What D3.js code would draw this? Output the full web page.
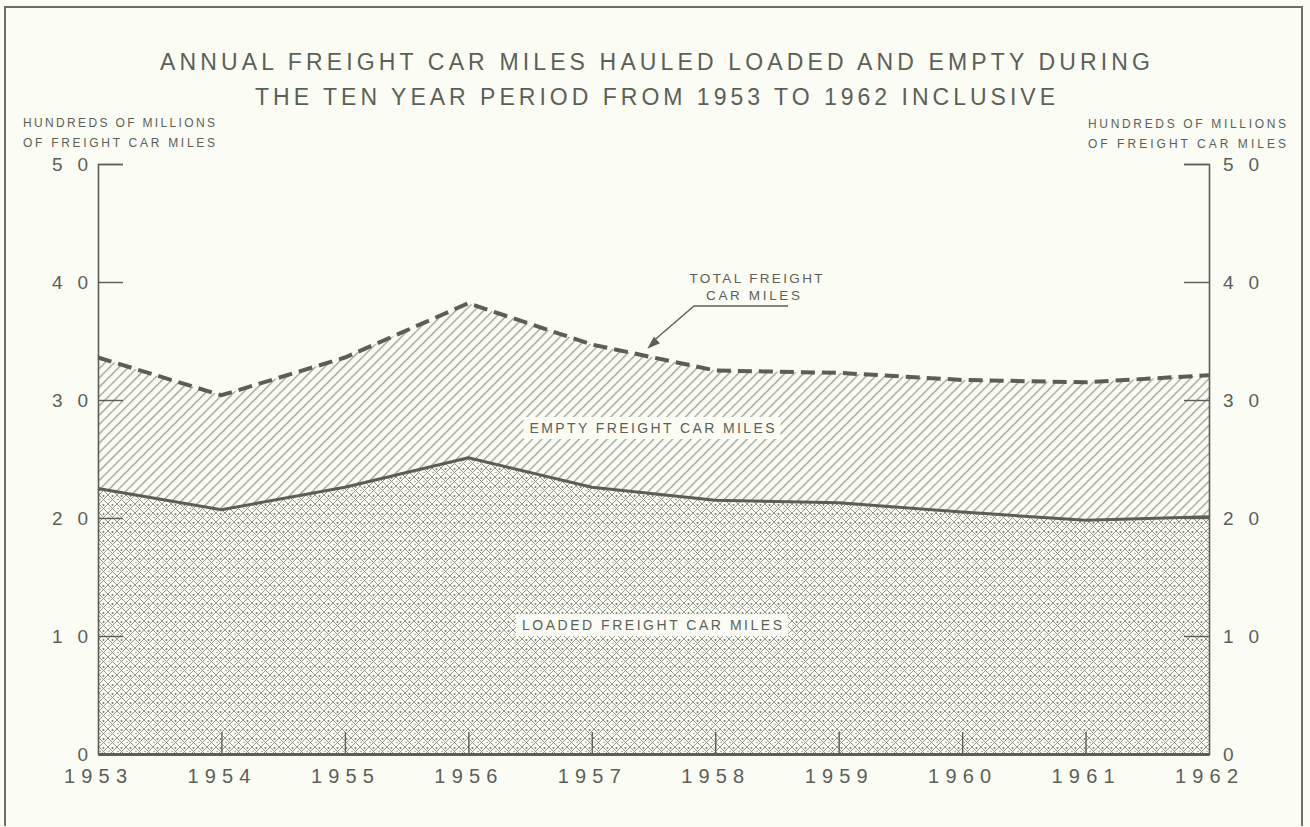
<!DOCTYPE html>
<html>
<head>
<meta charset="utf-8">
<script src="https://cdn.jsdelivr.net/npm/d3@7"></script>
<style>
  html, body { margin: 0; padding: 0; background: #fbfcf4; }
  svg { display: block; }
  text { font-family: "Liberation Sans", Arial, sans-serif; fill: #5b6056; }
</style>
</head>
<body>
<svg id="chart" width="1310" height="827"></svg>
<script>
// ---------------- data ----------------
const years = [1953, 1954, 1955, 1956, 1957, 1958, 1959, 1960, 1961, 1962];
const totalMiles  = [33.6, 30.4, 33.6, 38.2, 34.7, 32.5, 32.3, 31.7, 31.5, 32.1];
const loadedMiles = [22.5, 20.7, 22.6, 25.1, 22.6, 21.5, 21.3, 20.5, 19.8, 20.1];
const yTicks = [0, 10, 20, 30, 40, 50];
const titleLines = [
  "ANNUAL FREIGHT CAR MILES HAULED LOADED AND EMPTY DURING",
  "THE TEN YEAR PERIOD FROM 1953 TO 1962 INCLUSIVE"
];
const unitLines = ["HUNDREDS OF MILLIONS", "OF FREIGHT CAR MILES"];
const seriesLabels = {
  total: ["TOTAL FREIGHT", "CAR MILES"],
  empty: "EMPTY FREIGHT CAR MILES",
  loaded: "LOADED FREIGHT CAR MILES"
};
const totalPointer = { year: 1957.45, value: 34.0 };

// ---------------- layout ----------------
const ink = "#5b6056", lineInk = "#5a5e55", hatchInk = "#8a8e84", bg = "#fbfcf4";
const svg = d3.select("#chart");
const x = d3.scaleLinear().domain([1953, 1962]).range([98, 1209]);
const y = d3.scaleLinear().domain([0, 50]).range([754, 164]);

const data = years.map((yr, i) => ({ year: yr, total: totalMiles[i], loaded: loadedMiles[i] }));

svg.append("rect").attr("width", 1310).attr("height", 827).attr("fill", bg);

// frame (left, top, right)
svg.append("path")
  .attr("d", "M5,826 V7 H1302 V826")
  .attr("fill", "none").attr("stroke", "#6b6f66").attr("stroke-width", 2);

// patterns
const defs = svg.append("defs");
const hatch = defs.append("pattern")
  .attr("id", "hatch").attr("patternUnits", "userSpaceOnUse")
  .attr("width", 6.6).attr("height", 6.6)
  .attr("patternTransform", "rotate(45)");
hatch.append("line").attr("x1", 0.7).attr("y1", 0).attr("x2", 0.7).attr("y2", 6.6)
  .attr("stroke", hatchInk).attr("stroke-width", 1.1);

const cross = defs.append("pattern")
  .attr("id", "cross").attr("patternUnits", "userSpaceOnUse")
  .attr("width", 9).attr("height", 9);
cross.append("path").attr("d", "M0,0 L9,9 M9,0 L0,9")
  .attr("stroke", "#92968c").attr("stroke-width", 1).attr("fill", "none");
cross.append("circle").attr("cx", 4.5).attr("cy", 1).attr("r", 1).attr("fill", "#767a70");
cross.append("circle").attr("cx", 1).attr("cy", 4.5).attr("r", 0.7).attr("fill", "#868a80");

// areas
const emptyArea = d3.area().x(d => x(d.year)).y0(d => y(d.loaded)).y1(d => y(d.total));
const loadedArea = d3.area().x(d => x(d.year)).y0(y(0)).y1(d => y(d.loaded));
svg.append("path").datum(data).attr("d", emptyArea).attr("fill", "url(#hatch)");
svg.append("path").datum(data).attr("d", loadedArea).attr("fill", "url(#cross)");

// lines
const totalLine = d3.line().x(d => x(d.year)).y(d => y(d.total));
const loadedLine = d3.line().x(d => x(d.year)).y(d => y(d.loaded));
svg.append("path").datum(data).attr("d", loadedLine)
  .attr("fill", "none").attr("stroke", lineInk).attr("stroke-width", 3)
  .attr("stroke-linejoin", "round");
svg.append("path").datum(data).attr("d", totalLine)
  .attr("fill", "none").attr("stroke", lineInk).attr("stroke-width", 4)
  .attr("stroke-dasharray", "14,7");

// axes
function styleAxis(g) {
  g.selectAll("path.domain").attr("stroke", lineInk).attr("stroke-width", 1.6);
  g.selectAll(".tick line").attr("stroke", lineInk).attr("stroke-width", 1.4);
  g.selectAll("text").attr("font-family", "Liberation Sans, Arial, sans-serif")
    .attr("fill", ink);
}
const leftAxis = svg.append("g").attr("transform", `translate(${x(1953)},0)`)
  .call(d3.axisLeft(y).tickValues(yTicks).tickSize(-25).tickPadding(10).tickFormat(d3.format("d")));
styleAxis(leftAxis);
leftAxis.selectAll("text").attr("font-size", 19)
  .each(function(d) { if (String(d).length > 1) d3.select(this).attr("textLength", 36).attr("lengthAdjust", "spacing"); });

const rightAxis = svg.append("g").attr("transform", `translate(${x(1962)},0)`)
  .call(d3.axisRight(y).tickValues(yTicks).tickSize(-25).tickPadding(14).tickFormat(d3.format("d")));
styleAxis(rightAxis);
rightAxis.selectAll("text").attr("font-size", 19)
  .each(function(d) { if (String(d).length > 1) d3.select(this).attr("textLength", 36).attr("lengthAdjust", "spacing"); });

const bottomAxis = svg.append("g").attr("transform", `translate(0,${y(0)})`)
  .call(d3.axisBottom(x).tickValues(years).tickSize(-22).tickSizeOuter(0).tickPadding(15).tickFormat(d3.format("d")));
styleAxis(bottomAxis);
bottomAxis.selectAll("path.domain").attr("stroke-width", 3);
bottomAxis.selectAll(".tick line").filter(d => d === 1953 || d === 1962).remove();
bottomAxis.selectAll("text").attr("font-size", 20).attr("textLength", 63)
  .attr("lengthAdjust", "spacing").attr("dx", -3);

// title
svg.selectAll("text.title").data(titleLines).join("text")
  .attr("class", "title")
  .attr("x", 655).attr("y", (d, i) => 70 + i * 35)
  .attr("text-anchor", "middle").attr("font-size", 23)
  .attr("textLength", (d, i) => i === 0 ? 990 : 800).attr("lengthAdjust", "spacing")
  .text(d => d);

// unit labels
svg.selectAll("text.unitL").data(unitLines).join("text")
  .attr("class", "unitL").attr("x", 23).attr("y", (d, i) => 127 + i * 20)
  .attr("font-size", 12).attr("textLength", 192).attr("lengthAdjust", "spacing")
  .text(d => d);
svg.selectAll("text.unitR").data(unitLines).join("text")
  .attr("class", "unitR").attr("x", 1088).attr("y", (d, i) => 128 + i * 20)
  .attr("font-size", 12).attr("textLength", 198).attr("lengthAdjust", "spacing")
  .text(d => d);

// series labels
function boxedLabel(txt, cx, baseline, len, size) {
  svg.append("rect").attr("x", cx - len / 2 - 6).attr("y", baseline - size - 2)
    .attr("width", len + 12).attr("height", size + 8).attr("fill", bg);
  svg.append("text").attr("x", cx).attr("y", baseline).attr("text-anchor", "middle")
    .attr("font-size", size).attr("textLength", len).attr("lengthAdjust", "spacing").text(txt);
}
boxedLabel(seriesLabels.empty, 652, 433, 245, 14);
boxedLabel(seriesLabels.loaded, 652, 630, 260, 14);

// total label + pointer
svg.append("text").attr("x", 756).attr("y", 283).attr("text-anchor", "middle")
  .attr("font-size", 13.5).attr("textLength", 133).attr("lengthAdjust", "spacing")
  .text(seriesLabels.total[0]);
svg.append("text").attr("x", 753).attr("y", 300).attr("text-anchor", "middle")
  .attr("font-size", 13.5).attr("textLength", 94).attr("lengthAdjust", "spacing")
  .text(seriesLabels.total[1]);
const tipX = x(totalPointer.year), tipY = y(totalPointer.value) - 4;
svg.append("path")
  .attr("d", `M788,306 H694 L${tipX + 4},${tipY - 6}`)
  .attr("fill", "none").attr("stroke", lineInk).attr("stroke-width", 1.3);
// arrow head
const ang = Math.atan2(tipY - 306, tipX - 694);
const hl = 13, hw = 4.5;
const bx = tipX - hl * Math.cos(ang), by = tipY - hl * Math.sin(ang);
svg.append("path")
  .attr("d", `M${tipX},${tipY} L${bx + hw * Math.sin(ang)},${by - hw * Math.cos(ang)} L${bx - hw * Math.sin(ang)},${by + hw * Math.cos(ang)} Z`)
  .attr("fill", lineInk);
</script>
</body>
</html>
